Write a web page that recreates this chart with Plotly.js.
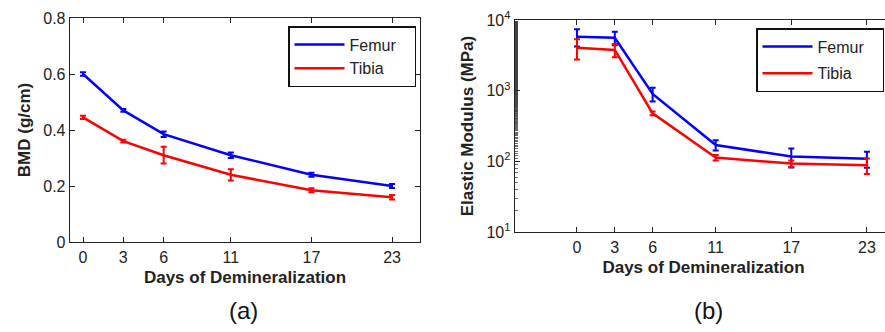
<!DOCTYPE html>
<html><head><meta charset="utf-8">
<script src="https://cdn.plot.ly/plotly-3.0.1.min.js"></script>
<style>html,body{margin:0;padding:0;background:#fff;overflow:hidden;width:885px;height:332px}#chart{width:900px;height:332px}</style>
</head><body><div id="chart"></div>
<script>
const days = [0, 3, 6, 11, 17, 23];
const bmdFemur = [0.60, 0.47, 0.385, 0.31, 0.24, 0.20];
const bmdFemurErr = [0.006, 0.005, 0.01, 0.01, 0.007, 0.007];
const bmdTibia = [0.445, 0.36, 0.31, 0.24, 0.185, 0.16];
const bmdTibiaErr = [0.006, 0.005, 0.03, 0.02, 0.007, 0.008];
const modFemur = [5800, 5600, 900, 170, 117, 109];
const modFemurErr = [1600, 1200, 200, 28, 35, 28];
const modTibia = [4050, 3770, 478, 113, 93, 88];
const modTibiaErr = [1300, 800, 30, 10, 10, 22];
const xTicks = [0, 3, 6, 11, 17, 23];
const yTicksA = [0, 0.2, 0.4, 0.6, 0.8];
const yTicksAText = ['0', '0.2', '0.4', '0.6', '0.8'];
const yTicksB = [10, 100, 1000, 10000];
const yTicksBText = ['10<sup>1</sup>', '10<sup>2</sup>', '10<sup>3</sup>', '10<sup>4</sup>'];

const W = 900, H = 332;
const BLUE = '#0000ff', RED = '#ff0000';
const FONT = 'Arial, "Liberation Sans", sans-serif';
function tr(x, y, err, color, name, xa, ya, leg) {
  return {x: x, y: y, type: 'scatter', mode: 'lines', name: name + '   ',
    xaxis: xa, yaxis: ya, legend: leg, legendgroup: leg + name,
    line: {color: color, width: 2.5},
    error_y: {type: 'data', array: err, visible: true, color: color, thickness: 2, width: 3}};
}
const data = [
  tr(days, bmdFemur, bmdFemurErr, BLUE, 'Femur', 'x', 'y', 'legend'),
  tr(days, bmdTibia, bmdTibiaErr, RED, 'Tibia', 'x', 'y', 'legend'),
  tr(days, modFemur, modFemurErr, BLUE, 'Femur', 'x2', 'y2', 'legend2'),
  tr(days, modTibia, modTibiaErr, RED, 'Tibia', 'x2', 'y2', 'legend2')
];
const axCommon = {showline: true, linecolor: '#222', linewidth: 1.3, mirror: 'ticks', ticks: 'inside',
  ticklen: 5, tickcolor: '#222', showgrid: false, zeroline: false,
  tickfont: {family: FONT, size: 16, color: '#222'}};
const titleFont = {family: FONT, size: 17, color: '#222', weight: 'bold'};
const legCommon = {bgcolor: '#fff', bordercolor: '#111', borderwidth: 1.5, itemwidth: 50,
  font: {family: FONT, size: 16, color: '#222'}, xanchor: 'left', yanchor: 'top'};
const layout = {
  width: W, height: H, margin: {l: 0, r: 0, t: 0, b: 0},
  paper_bgcolor: '#fff', plot_bgcolor: '#fff', showlegend: true,
  xaxis: Object.assign({}, axCommon, {domain: [70/W, 420/W], range: [-0.968, 25.08],
    tickvals: xTicks, ticktext: xTicks.map(String), anchor: 'y',
    title: {text: 'Days of Demineralization', font: titleFont, standoff: 6}}),
  yaxis: Object.assign({}, axCommon, {domain: [90/H, 314/H], range: [0, 0.8],
    tickvals: yTicksA, ticktext: yTicksAText, anchor: 'x',
    title: {text: 'BMD (g/cm)', font: titleFont, standoff: 8}}),
  xaxis2: Object.assign({}, axCommon, {domain: [515/W, 892/W], range: [-4.917, 24.99],
    tickvals: xTicks, ticktext: xTicks.map(String), anchor: 'y2',
    title: {text: 'Days of Demineralization', font: titleFont, standoff: 6}}),
  yaxis2: Object.assign({}, axCommon, {domain: [100/H, 312/H], type: 'log', range: [1, 4],
    tickvals: yTicksB, ticktext: yTicksBText, anchor: 'x2',
    minor: {ticks: 'inside', ticklen: 3, tickwidth: 0.8, tickcolor: '#444'},
    title: {text: 'Elastic Modulus (MPa)', font: titleFont, standoff: 8}}),
  legend: Object.assign({}, legCommon, {x: 288/W, y: 1 - 26/H, tracegroupgap: 0}),
  legend2: Object.assign({}, legCommon, {x: 756/W, y: 1 - 28/H, tracegroupgap: 3}),
  annotations: [
    {text: '(a)', x: 243/W, y: 1 - 310/H, xref: 'paper', yref: 'paper', showarrow: false,
     xanchor: 'center', yanchor: 'middle', font: {family: FONT, size: 24, color: '#111'}},
    {text: '(b)', x: 708/W, y: 1 - 310/H, xref: 'paper', yref: 'paper', showarrow: false,
     xanchor: 'center', yanchor: 'middle', font: {family: FONT, size: 24, color: '#111'}}
  ]
};
Plotly.newPlot('chart', data, layout, {displayModeBar: false, staticPlot: true});
</script></body></html>
